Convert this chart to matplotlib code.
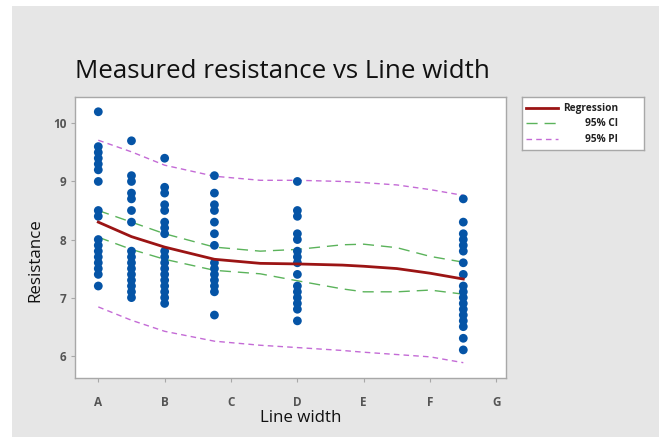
import numpy as np
import matplotlib.pyplot as plt
from matplotlib.patches import Rectangle

# ------------------------------------------------------------------
# data
# ------------------------------------------------------------------
tick_pos = [1, 2, 3, 4, 5, 6, 7]
tick_labels = ['A', 'B', 'C', 'D', 'E', 'F', 'G']

# measured points, one list per line-width group
grp_x = [1.0, 1.5, 2.0, 2.75, 4.0, 6.5]
grp_vals = [
    [10.2, 9.6, 9.5, 9.4, 9.3, 9.2, 9.0, 8.5, 8.4,
     8.0, 7.9, 7.8, 7.7, 7.6, 7.5, 7.4, 7.2],
    [9.7, 9.1, 9.0, 8.8, 8.7, 8.5, 8.3,
     7.8, 7.7, 7.6, 7.5, 7.4, 7.3, 7.2, 7.1, 7.0],
    [9.4, 8.9, 8.8, 8.6, 8.5, 8.3, 8.2, 8.1,
     7.8, 7.7, 7.6, 7.5, 7.4, 7.3, 7.2, 7.1, 7.0, 6.9],
    [9.1, 8.8, 8.6, 8.5, 8.3, 8.1, 7.9,
     7.6, 7.5, 7.4, 7.3, 7.2, 7.1, 6.7],
    [9.0, 8.5, 8.4, 8.1, 8.0, 7.8, 7.7, 7.6, 7.4,
     7.2, 7.1, 7.0, 6.9, 6.8, 6.6],
    [8.7, 8.3, 8.1, 8.0, 7.9, 7.8, 7.6, 7.4,
     7.2, 7.1, 7.0, 6.9, 6.8, 6.7, 6.6, 6.5, 6.3, 6.1],
]

# fitted curve and bands
fit_x = [1.0, 1.5, 2.0, 2.75, 3.44, 4.0, 4.68, 5.0, 5.5, 6.0, 6.5]
fit_y = [8.30, 8.05, 7.87, 7.66, 7.59, 7.58, 7.56, 7.54, 7.50, 7.42, 7.32]
ci_hi = [8.50, 8.30, 8.10, 7.87, 7.80, 7.83, 7.91, 7.92, 7.86, 7.71, 7.61]
ci_lo = [8.04, 7.83, 7.66, 7.47, 7.41, 7.29, 7.15, 7.10, 7.10, 7.13, 7.06]
pi_hi = [9.71, 9.51, 9.28, 9.09, 9.02, 9.02, 9.00, 8.98, 8.94, 8.86, 8.76]
pi_lo = [6.84, 6.61, 6.42, 6.25, 6.18, 6.14, 6.09, 6.06, 6.02, 5.98, 5.88]

# ------------------------------------------------------------------
# styling
# ------------------------------------------------------------------
W, H = 659, 437
BG = '#e6e6e6'
DOT = '#0554a6'
RED = '#9b1414'
GREEN = '#5bb35b'
PURPLE = '#c46bd6'
FRAME = '#a8a8a8'
TICKC = '#555555'
FONT = ['Open Sans', 'DejaVu Sans']

plt.rcParams['font.family'] = FONT

fig = plt.figure(figsize=(W / 100, H / 100), dpi=100)
fig.patch.set_facecolor('white')
fig.add_artist(Rectangle((12 / W, 0), 1 - 12 / W, 1 - 6 / H,
                         transform=fig.transFigure, facecolor=BG,
                         edgecolor='none', zorder=-10))

ax = fig.add_axes([75 / W, 1 - 378.3 / H, (505.7 - 75) / W, (378.3 - 97.3) / H])
ax.set_facecolor('white')

for x, vals in zip(grp_x, grp_vals):
    ax.scatter([x] * len(vals), vals, s=40, color=DOT, edgecolors='none', zorder=3)

ax.plot(fit_x, fit_y, color=RED, lw=2.0, zorder=4)
for band in (ci_hi, ci_lo):
    ax.plot(fit_x, band, color=GREEN, lw=1.0, dashes=(8, 5), zorder=2)
for band in (pi_hi, pi_lo):
    ax.plot(fit_x, band, color=PURPLE, lw=1.0, dashes=(4, 3), zorder=2)

ax.set_xlim(0.649, 7.139)
ax.set_ylim(5.611, 10.449)
ax.set_xticks(tick_pos)
ax.set_xticklabels(tick_labels)
ax.set_yticks([6, 7, 8, 9, 10])
ax.tick_params(length=3, width=0.8, color=FRAME, labelcolor=TICKC,
               labelsize=8.5, pad=10)
ax.tick_params(axis='y', pad=3)
for lab in ax.get_xticklabels() + ax.get_yticklabels():
    lab.set_fontweight('bold')
for sp in ax.spines.values():
    sp.set_color(FRAME)
    sp.set_linewidth(1.0)

fig.text(282 / W, 1 - 78 / H, 'Measured resistance vs Line width',
         ha='center', va='baseline', fontsize=18.6, color='#111111')
fig.text(301 / W, 1 - 418 / H, 'Line width', ha='center', va='center',
         fontsize=12.2, color='#111111')
fig.text(35 / W, 1 - 260 / H, 'Resistance', ha='center', va='center',
         rotation=90, fontsize=12.2, color='#111111')

# legend box
lg = fig.add_axes([521.7 / W, 1 - 150 / H, (644 - 521.7) / W, (150 - 97.3) / H])
lg.set_xlim(0, 1)
lg.set_ylim(0, 1)
lg.set_xticks([])
lg.set_yticks([])
for sp in lg.spines.values():
    sp.set_color(FRAME)
    sp.set_linewidth(1.0)

entries = [
    ('Regression', dict(color=RED, lw=2.0)),
    ('95% CI', dict(color=GREEN, lw=1.0, dashes=(8, 5))),
    ('95% PI', dict(color=PURPLE, lw=1.0, dashes=(4, 3))),
]
rows = [0.79, 0.507, 0.20]
for (name, style), yy in zip(entries, rows):
    lg.plot([0.035, 0.297], [yy, yy], **style)
    lg.text(0.787, yy, name, ha='right', va='center', fontsize=7.3,
            fontweight='bold', color='#222222')

fig.savefig('out.png', dpi=100, facecolor=fig.get_facecolor())
